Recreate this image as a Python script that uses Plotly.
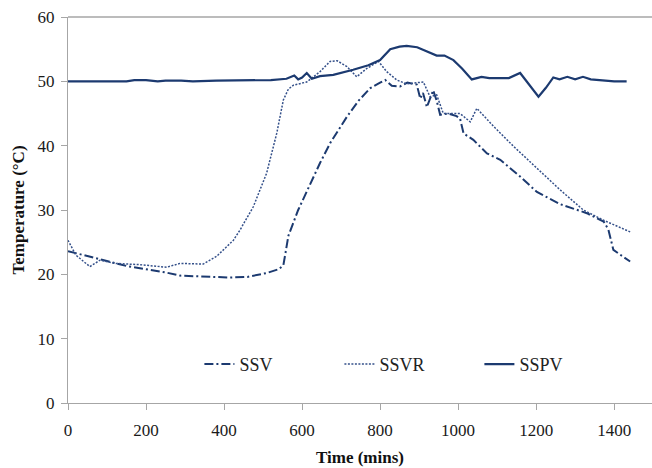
import plotly.graph_objects as go

# SSV (dash-dot)
ssv_x = [0, 50, 100, 150, 200, 250, 287, 350, 415, 460, 509, 540, 552, 558, 565, 590, 620, 646, 672, 700, 715, 745, 774, 800, 813, 830, 851, 870, 894, 903, 910, 920, 936, 945, 954, 975, 996, 1005, 1014, 1039, 1074, 1108, 1159, 1202, 1262, 1330, 1373, 1385, 1398, 1424, 1441]
ssv_y = [23.6, 22.8, 22.0, 21.3, 20.8, 20.3, 19.8, 19.7, 19.5, 19.6, 20.2, 20.8, 21.4, 23.5, 26.0, 30.0, 34.0, 37.3, 40.4, 43.0, 44.5, 47.0, 48.9, 49.8, 50.2, 49.3, 49.2, 49.8, 49.5, 47.3, 48.2, 46.0, 48.6, 47.0, 44.8, 45.0, 44.6, 44.2, 41.9, 40.9, 38.8, 37.8, 35.2, 32.8, 30.9, 29.5, 28.2, 27.0, 23.8, 22.7, 22.0]

# SSVR (dotted)
ssvr_x = [0, 20, 40, 56, 82, 120, 185, 253, 287, 347, 381, 424, 441, 475, 509, 535, 552, 565, 578, 612, 646, 672, 690, 715, 740, 766, 796, 817, 843, 868, 911, 928, 945, 962, 1005, 1031, 1048, 1091, 1142, 1193, 1262, 1321, 1373, 1441]
ssvr_y = [25.3, 23.0, 22.0, 21.2, 22.2, 21.7, 21.5, 21.1, 21.7, 21.6, 22.8, 25.3, 26.9, 30.5, 35.7, 41.9, 47.1, 48.8, 49.4, 49.9, 51.5, 53.1, 53.2, 52.3, 50.7, 52.0, 53.1, 51.5, 50.2, 49.6, 49.9, 47.6, 47.9, 45.0, 45.0, 43.7, 45.8, 43.0, 39.9, 37.0, 33.1, 30.0, 28.4, 26.6]

# SSPV (solid)
sspv_x = [0, 150, 170, 200, 230, 250, 290, 320, 380, 420, 480, 520, 560, 580, 590, 600, 612, 625, 646, 680, 731, 770, 800, 826, 850, 868, 895, 920, 945, 965, 988, 1010, 1035, 1060, 1080, 1100, 1130, 1159, 1180, 1206, 1225, 1244, 1260, 1280, 1300, 1320, 1340, 1364, 1400, 1432]
sspv_y = [50.0, 50.0, 50.2, 50.2, 50.0, 50.1, 50.1, 50.0, 50.1, 50.1, 50.1, 50.2, 50.4, 50.9, 50.3, 50.6, 51.3, 50.4, 50.8, 51.0, 51.8, 52.5, 53.3, 55.0, 55.4, 55.5, 55.3, 54.7, 54.0, 54.0, 53.3, 52.0, 50.3, 50.7, 50.5, 50.5, 50.5, 51.3, 49.7, 47.6, 49.0, 50.6, 50.3, 50.7, 50.3, 50.7, 50.3, 50.2, 50.0, 50.0]

x_ticks = [0, 200, 400, 600, 800, 1000, 1200, 1400]
y_ticks = [0, 10, 20, 30, 40, 50, 60]

navy = "#1c3a70"
serif = '"Liberation Serif", "Times New Roman", Times, serif'

fig = go.Figure()
fig.add_trace(go.Scatter(x=ssv_x, y=ssv_y, mode="lines", name="SSV",
                         line=dict(color=navy, width=2, dash="9px,3px,2px,3px")))
fig.add_trace(go.Scatter(x=ssvr_x, y=ssvr_y, mode="lines", name="SSVR",
                         line=dict(color="#34508a", width=1.5, dash="2px,1.5px")))
fig.add_trace(go.Scatter(x=sspv_x, y=sspv_y, mode="lines", name="SSPV",
                         line=dict(color=navy, width=2.2)))

axis_common = dict(showgrid=False, zeroline=False, showline=True, linecolor="#a6a6a6",
                   linewidth=1.3, ticks="outside", ticklen=6, tickcolor="#a6a6a6",
                   tickfont=dict(family=serif, size=17, color="#1a1a1a"))

fig.update_layout(
    width=652, height=468,
    margin=dict(l=68, r=0, t=17, b=65),
    plot_bgcolor="white", paper_bgcolor="white",
    xaxis=dict(range=[0, 1497], tickvals=x_ticks, ticklabelstandoff=5,
               title=dict(text="<b>Time (mins)</b>", font=dict(family=serif, size=17, color="#111"), standoff=12),
               **axis_common),
    yaxis=dict(range=[0, 60], tickvals=y_ticks, ticklabelstandoff=3,
               title=dict(text="<b>Temperature (°C)</b>", font=dict(family=serif, size=17, color="#111"), standoff=8),
               **axis_common),
    legend=dict(orientation="h", x=0.225, y=0.1, xanchor="left", yanchor="middle",
                font=dict(family=serif, size=18, color="#222"),
                entrywidth=95, bgcolor="rgba(0,0,0,0)"),
    showlegend=True,
)
fig.add_shape(type="line", xref="paper", yref="paper", x0=0, x1=1, y0=1, y1=1,
              line=dict(color="#a6a6a6", width=1.3))

fig.write_html("out.html")
